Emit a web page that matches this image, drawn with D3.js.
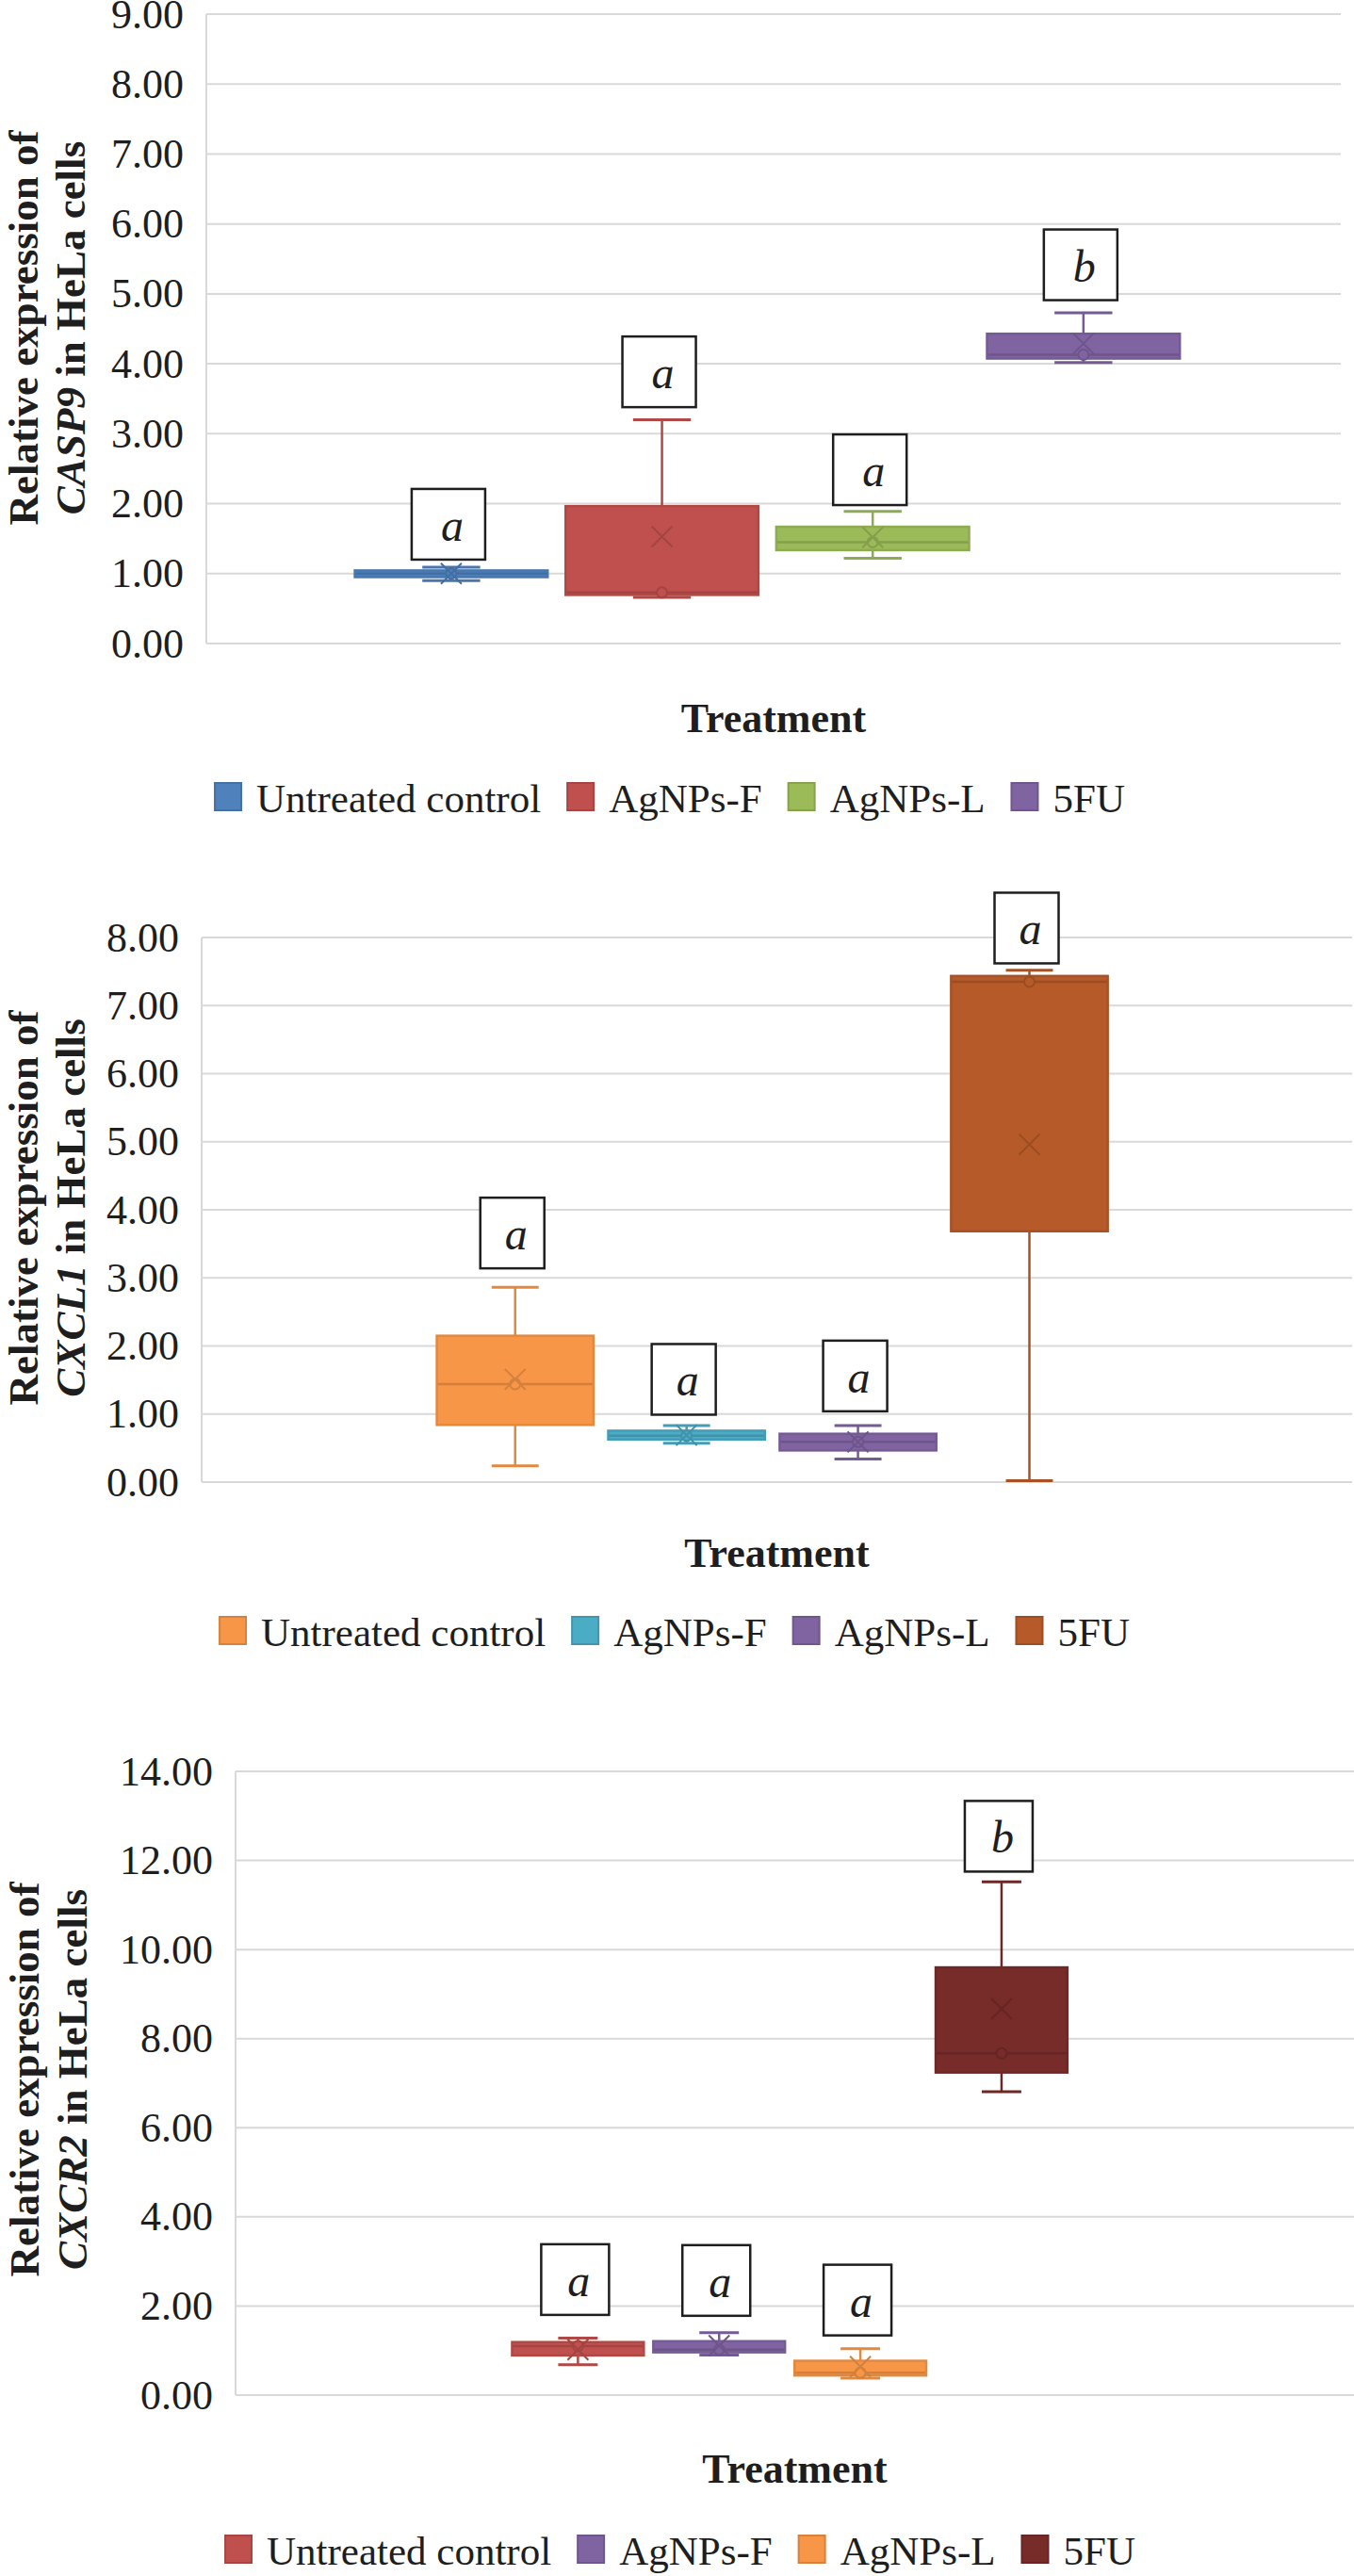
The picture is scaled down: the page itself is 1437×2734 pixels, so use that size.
<!DOCTYPE html>
<html><head><meta charset="utf-8">
<script src="https://cdn.jsdelivr.net/npm/d3@7"></script>
<style>
body{margin:0;background:#fff}
svg{display:block}
text{font-family:"Liberation Serif","Times New Roman",serif;fill:#1e1e1e}
</style>
</head><body>
<svg id="fig" width="1437" height="2734"></svg>
<script>
// ---------------- DATA ----------------
const categories = ["Untreated control", "AgNPs-F", "AgNPs-L", "5FU"];

// CASP9
const casp9Ticks  = [0, 1, 2, 3, 4, 5, 6, 7, 8, 9];
const casp9Min    = [0.90, 0.66, 1.22, 4.02];
const casp9Q1     = [0.95, 0.695, 1.335, 4.075];
const casp9Median = [1.00, 0.73, 1.45, 4.13];
const casp9Q3     = [1.045, 1.965, 1.67, 4.43];
const casp9Max    = [1.09, 3.20, 1.89, 4.73];
const casp9Mean   = [1.00, 1.53, 1.52, 4.29];
const casp9Letters = ["a", "a", "a", "b"];
const casp9LabelAt = [1.20, 3.38, 1.98, 4.91];
const casp9Colors = ["#4F81BD", "#C0504D", "#9BBB59", "#8064A2"];

// CXCL1
const cxcl1Ticks  = [0, 1, 2, 3, 4, 5, 6, 7, 8];
const cxcl1Min    = [0.24, 0.57, 0.34, 0.02];
const cxcl1Q1     = [0.84, 0.625, 0.465, 3.685];
const cxcl1Median = [1.44, 0.68, 0.59, 7.35];
const cxcl1Q3     = [2.15, 0.755, 0.71, 7.435];
const cxcl1Max    = [2.86, 0.83, 0.83, 7.52];
const cxcl1Mean   = [1.51, 0.69, 0.59, 4.96];
const cxcl1Letters = ["a", "a", "a", "a"];
const cxcl1LabelAt = [3.14, 0.99, 1.04, 7.62];
const cxcl1Colors = ["#F79646", "#4BACC6", "#8064A2", "#B55A28"];

// CXCR2
const cxcr2Ticks  = [0, 2, 4, 6, 8, 10, 12, 14];
const cxcr2Min    = [0.68, 0.90, 0.38, 6.81];
const cxcr2Q1     = [0.89, 0.96, 0.44, 7.24];
const cxcr2Median = [1.10, 1.02, 0.50, 7.67];
const cxcr2Q3     = [1.19, 1.21, 0.77, 9.60];
const cxcr2Max    = [1.28, 1.40, 1.04, 11.52];
const cxcr2Mean   = [1.02, 1.11, 0.64, 8.67];
const cxcr2Letters = ["a", "a", "a", "b"];
const cxcr2LabelAt = [1.80, 1.78, 1.34, 11.75];
const cxcr2Colors = ["#C0504D", "#8064A2", "#F79646", "#772C2A"];

const xTitle = "Treatment";
const yTitleLine1 = "Relative expression of";
const yTitleLine2 = " in HeLa cells";

// ---------------- LAYOUT ----------------
const charts = [
  {gene: "CASP9", ticks: casp9Ticks, min: casp9Min, q1: casp9Q1, med: casp9Median, q3: casp9Q3, max: casp9Max, mean: casp9Mean,
   letters: casp9Letters, labelAt: casp9LabelAt, colors: casp9Colors,
   L: {left: 219, right: 1423, top: 15, bottom: 683, gL: 0.123, gR: 0.866, pad: 0.085,
       tx1: 40, tx2: 90, titleCY: 348, xTitleY: 777, legendY: 862, legendCX: 711, labelW: 78}},
  {gene: "CXCL1", ticks: cxcl1Ticks, min: cxcl1Min, q1: cxcl1Q1, med: cxcl1Median, q3: cxcl1Q3, max: cxcl1Max, mean: cxcl1Mean,
   letters: cxcl1Letters, labelAt: cxcl1LabelAt, colors: cxcl1Colors,
   L: {left: 214, right: 1435, top: 995, bottom: 1573, gL: 0.198, gR: 0.794, pad: 0.086,
       tx1: 40, tx2: 90, titleCY: 1282, xTitleY: 1663, legendY: 1747, legendCX: 716, labelW: 68}},
  {gene: "CXCR2", ticks: cxcr2Ticks, min: cxcr2Min, q1: cxcr2Q1, med: cxcr2Median, q3: cxcr2Q3, max: cxcr2Max, mean: cxcr2Mean,
   letters: cxcr2Letters, labelAt: cxcr2LabelAt, colors: cxcr2Colors,
   L: {left: 250, right: 1437, top: 1880, bottom: 2542, gL: 0.243, gR: 0.748, pad: 0.067,
       tx1: 41, tx2: 92, titleCY: 2207, xTitleY: 2635, legendY: 2722, legendCX: 722, labelW: 72}}
];

const svg = d3.select("#fig");

function draw(cfg) {
  const L = cfg.L;
  const g = svg.append("g");
  const y = d3.scaleLinear().domain([0, d3.max(cfg.ticks)]).range([L.bottom, L.top]);
  const W = L.right - L.left;
  const x = d3.scaleBand().domain(categories)
    .range([L.left + W * L.gL, L.left + W * L.gR])
    .paddingInner(L.pad).paddingOuter(L.pad / 2);
  const bw = x.bandwidth();

  // gridlines
  g.append("g").selectAll("line").data(cfg.ticks).join("line")
    .attr("x1", L.left).attr("x2", L.right)
    .attr("y1", d => y(d)).attr("y2", d => y(d))
    .attr("stroke", "#D9D9D9").attr("stroke-width", 2);
  // left axis line
  g.append("line").attr("x1", L.left).attr("x2", L.left)
    .attr("y1", y(d3.max(cfg.ticks))).attr("y2", y(0))
    .attr("stroke", "#D9D9D9").attr("stroke-width", 2);

  // y axis labels
  const ax = g.append("g").attr("transform", `translate(${L.left},0)`)
    .call(d3.axisLeft(y).tickValues(cfg.ticks).tickFormat(d3.format(".2f")).tickSize(0).tickPadding(24));
  ax.select(".domain").remove();
  ax.selectAll("text").style("font-size", "44px").style("font-family", '"Liberation Serif", serif').attr("fill", "#1e1e1e");

  // y title
  g.append("text")
    .attr("transform", `translate(${L.tx1},${L.titleCY}) rotate(-90)`)
    .attr("text-anchor", "middle").style("font-size", "45px").style("font-weight", "bold")
    .text(yTitleLine1);
  const t2 = g.append("text")
    .attr("transform", `translate(${L.tx2},${L.titleCY}) rotate(-90)`)
    .attr("text-anchor", "middle").style("font-size", "45px").style("font-weight", "bold");
  t2.append("tspan").style("font-style", "italic").text(cfg.gene);
  t2.append("tspan").text(yTitleLine2);

  // x title
  g.append("text").attr("x", (L.left + L.right) / 2).attr("y", L.xTitleY)
    .attr("text-anchor", "middle").style("font-size", "44px").style("font-weight", "bold")
    .text(xTitle);

  // boxes
  const rows = categories.map((c, i) => ({
    c, i, min: cfg.min[i], q1: cfg.q1[i], med: cfg.med[i], q3: cfg.q3[i], max: cfg.max[i],
    mean: cfg.mean[i], color: cfg.colors[i], letter: cfg.letters[i], labelAt: cfg.labelAt[i]
  }));

  const boxes = g.append("g").selectAll("g").data(rows).join("g");
  boxes.each(function(d) {
    const s = d3.select(this);
    const cx = x(d.c) + bw / 2;
    const dark = d3.color(d.color).darker(0.45).formatHex();
    const wStroke = d3.color(d.color).darker(0.25).formatHex();
    const cap = bw * 0.3;
    // whiskers
    s.append("line").attr("x1", cx).attr("x2", cx).attr("y1", y(d.q3)).attr("y2", y(d.max))
      .attr("stroke", wStroke).attr("stroke-width", 2.5);
    s.append("line").attr("x1", cx).attr("x2", cx).attr("y1", y(d.q1)).attr("y2", y(d.min))
      .attr("stroke", wStroke).attr("stroke-width", 2.5);
    s.append("line").attr("x1", cx - cap / 2).attr("x2", cx + cap / 2).attr("y1", y(d.max)).attr("y2", y(d.max))
      .attr("stroke", wStroke).attr("stroke-width", 3);
    s.append("line").attr("x1", cx - cap / 2).attr("x2", cx + cap / 2).attr("y1", y(d.min)).attr("y2", y(d.min))
      .attr("stroke", wStroke).attr("stroke-width", 3);
    // box
    s.append("rect").attr("x", x(d.c)).attr("width", bw)
      .attr("y", y(d.q3)).attr("height", Math.max(1, y(d.q1) - y(d.q3)))
      .attr("fill", d.color).attr("stroke", wStroke).attr("stroke-width", 2.5);
    // median
    s.append("line").attr("x1", x(d.c) + 1).attr("x2", x(d.c) + bw - 1).attr("y1", y(d.med)).attr("y2", y(d.med))
      .attr("stroke", dark).attr("stroke-width", 2.5);
    // inner point
    s.append("circle").attr("cx", cx).attr("cy", y(d.med)).attr("r", 5.5)
      .attr("fill", d.color).attr("stroke", dark).attr("stroke-width", 2);
    // mean marker X
    const m = 11;
    s.append("path")
      .attr("d", `M${cx - m},${y(d.mean) - m}L${cx + m},${y(d.mean) + m}M${cx - m},${y(d.mean) + m}L${cx + m},${y(d.mean) - m}`)
      .attr("stroke", dark).attr("stroke-width", 2).attr("fill", "none");
    // significance label
    const lw = L.labelW, lh = 75;
    const lb = y(d.labelAt);
    s.append("rect").attr("x", cx - 3 - lw / 2).attr("y", lb - lh).attr("width", lw).attr("height", lh)
      .attr("fill", "#fff").attr("stroke", "#1e1e1e").attr("stroke-width", 2.5);
    s.append("text").attr("x", cx + 1).attr("y", lb - 20)
      .attr("text-anchor", "middle").style("font-size", "48px").style("font-style", "italic")
      .text(d.letter);
  });

  // legend
  const leg = g.append("g");
  const items = leg.selectAll("g").data(rows).join("g");
  items.append("rect").attr("width", 28).attr("height", 29).attr("y", L.legendY - 31)
    .attr("fill", d => d.color).attr("stroke", d => d3.color(d.color).darker(0.4).formatHex()).attr("stroke-width", 2);
  items.append("text").attr("x", 44).attr("y", L.legendY).style("font-size", "43px").text(d => d.c);
  let widths = [];
  items.each(function() { widths.push(44 + d3.select(this).select("text").node().getComputedTextLength()); });
  const gap = 28;
  const total = d3.sum(widths) + gap * (widths.length - 1);
  let cur = L.legendCX - total / 2;
  items.attr("transform", (d, i) => { const t = `translate(${cur},0)`; cur += widths[i] + gap; return t; });
}

charts.forEach(draw);
</script>
</body></html>
